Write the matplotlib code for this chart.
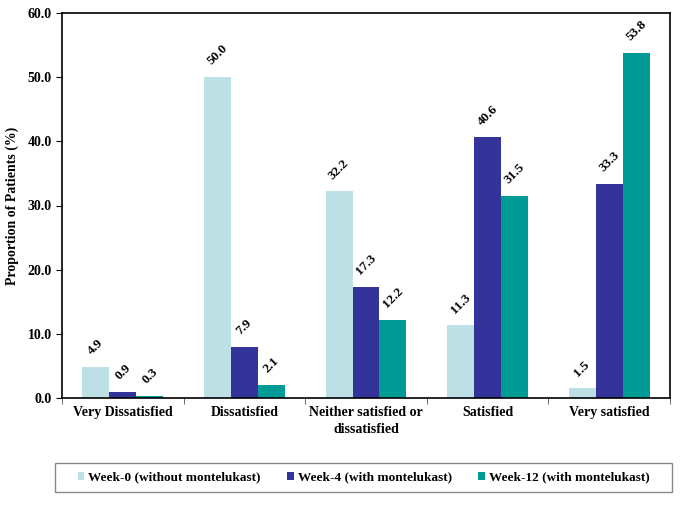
import matplotlib
matplotlib.use("Agg")
import matplotlib.pyplot as plt
import numpy as np
from matplotlib.ticker import FixedLocator
from matplotlib.patches import Rectangle

categories = ["Very Dissatisfied", "Dissatisfied", "Neither satisfied or\ndissatisfied",
              "Satisfied", "Very satisfied"]
series_names = ["Week-0 (without montelukast)", "Week-4 (with montelukast)",
                "Week-12 (with montelukast)"]
week0 = [4.9, 50.0, 32.2, 11.3, 1.5]
week4 = [0.9, 7.9, 17.3, 40.6, 33.3]
week12 = [0.3, 2.1, 12.2, 31.5, 53.8]
colors = ["#BCE0E4", "#333399", "#009B95"]

plt.rcParams['font.family'] = ['Liberation Serif', 'DejaVu Serif']
plt.rcParams['font.weight'] = 'bold'

W, H = 685, 505
fig = plt.figure(figsize=(W/100, H/100), dpi=100)
ax = fig.add_axes([62/W, 1-398/H, (670-62)/W, (398-13)/H])

x = np.arange(len(categories))
w = 0.222
for i, (vals, name, c) in enumerate(zip([week0, week4, week12], series_names, colors)):
    pos = x + (i - 1) * w
    ax.bar(pos, vals, width=w, color=c, label=name, edgecolor='none')
    for p, v in zip(pos, vals):
        ax.annotate(f"{v:.1f}", (p, v), xytext=(0, 7), textcoords='offset points',
                    ha='center', va='bottom', rotation=45, fontsize=9.5, fontweight='bold')

ax.set_xlim(-0.5, len(categories) - 0.5)
ax.set_ylim(0, 60)
ax.set_yticks(np.arange(0, 61, 10))
ax.set_yticklabels([f"{v:.1f}" for v in np.arange(0, 61, 10)], fontsize=10, fontweight='bold')
ax.set_xticks(x)
ax.set_xticklabels(categories, fontsize=10, fontweight='bold', linespacing=1.35)
ax.tick_params(axis='x', which='major', length=0, pad=6)
ax.xaxis.set_minor_locator(FixedLocator(np.arange(-0.5, len(categories), 1.0)))
ax.tick_params(axis='x', which='minor', length=4, direction='out', color='#555555')
ax.tick_params(axis='y', length=4, direction='out')
for s in ax.spines.values():
    s.set_linewidth(1.2)
ax.set_ylabel("Proportion of Patients (%)", fontsize=10, fontweight='bold', labelpad=6)

# legend box
fig.patches.append(Rectangle((55/W, 1-492/H), (672-55)/W, (492-463)/H,
                             transform=fig.transFigure, fill=False,
                             edgecolor='#888888', linewidth=1.0))
handles, labels = ax.get_legend_handles_labels()
leg = fig.legend(handles, labels, loc='center', bbox_to_anchor=((55+672)/2/W, 1-477.5/H),
                 ncol=3, fontsize=9.5, handlelength=0.5, handleheight=0.5, handletextpad=0.3,
                 columnspacing=2.0, frameon=False, borderaxespad=0, borderpad=0)
for t in leg.get_texts():
    t.set_fontweight('bold')

fig.savefig("out.png", dpi=100)
